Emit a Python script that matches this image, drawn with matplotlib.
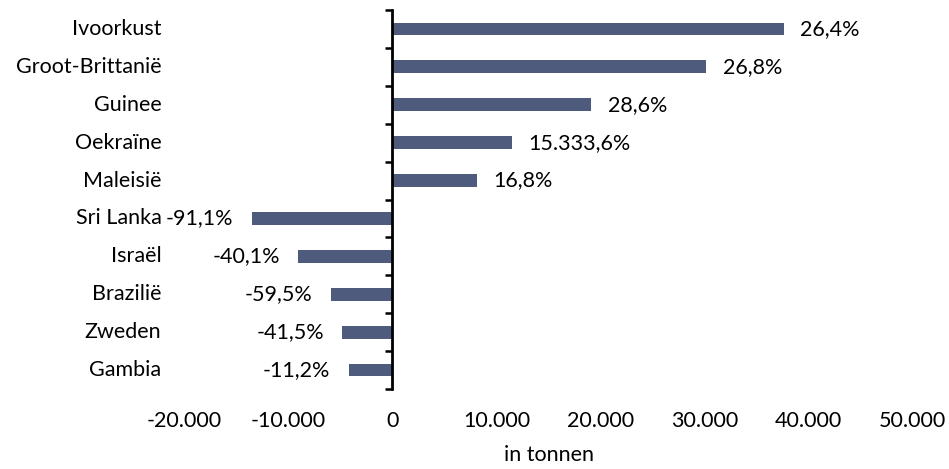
import numpy as np
import matplotlib
matplotlib.use("Agg")
from matplotlib import pyplot as plt
from matplotlib.ticker import FuncFormatter, FixedLocator
import matplotlib.transforms as mtransforms

plt.rcParams['font.family'] = ['Lato', 'DejaVu Sans']

# data, top to bottom as in the chart
countries = ["Ivoorkust", "Groot-Brittanië", "Guinee", "Oekraïne", "Maleisië",
             "Sri Lanka", "Israël", "Brazilië", "Zweden", "Gambia"]
tonnen = [37600, 30150, 19100, 11500, 8100, -13550, -9070, -5960, -4870, -4230]
change_pct = [26.4, 26.8, 28.6, 15333.6, 16.8, -91.1, -40.1, -59.5, -41.5, -11.2]


def nl_number(v, decimals=0):
    s = f"{v:,.{decimals}f}"
    return s.replace(",", "#").replace(".", ",").replace("#", ".")


bar_color = "#4f5b7c"
fs = 15.5

fig = plt.figure(figsize=(9.49, 4.69), dpi=100)
ax = fig.add_axes([184.5 / 949, 1 - 389 / 469, 728 / 949, 379 / 469])

ypos = np.arange(len(countries))[::-1]
ax.barh(ypos, tonnen, height=0.34, color=bar_color, zorder=2)

ax.set_xlim(-20000, 50000)
ax.set_ylim(-0.5, len(countries) - 0.5)

# spines: only the vertical one at zero
for s in ["top", "right", "bottom"]:
    ax.spines[s].set_visible(False)
ax.spines["left"].set_position(("data", 0))
ax.spines["left"].set_linewidth(2)
ax.spines["left"].set_color("black")

# tick marks between categories, labels drawn separately
ax.yaxis.set_major_locator(FixedLocator(np.arange(-0.5, len(countries), 1.0)))
ax.yaxis.set_major_formatter(FuncFormatter(lambda v, p: ""))
ax.tick_params(axis="y", direction="out", length=5, width=1.8, color="black")

ax.set_xticks(np.arange(-20000, 50001, 10000))
ax.xaxis.set_major_formatter(FuncFormatter(lambda v, p: nl_number(v)))
ax.tick_params(axis="x", length=0, pad=16, labelsize=fs)

# category names at the left edge of the plot area
lab_tr = mtransforms.blended_transform_factory(ax.transAxes, ax.transData)
off = mtransforms.ScaledTranslation(-23 / 100, 0, fig.dpi_scale_trans)
for y, name in zip(ypos, countries):
    ax.text(0, y, name, transform=lab_tr + off, ha="right", va="center", fontsize=fs)

# value labels with percentage change
for y, v, p in zip(ypos, tonnen, change_pct):
    txt = nl_number(p, 1) + "%"
    if v >= 0:
        ax.annotate(txt, (v, y), xytext=(12, 0), textcoords="offset points",
                    ha="left", va="center", fontsize=fs)
    else:
        ax.annotate(txt, (v, y), xytext=(-13, 0), textcoords="offset points",
                    ha="right", va="center", fontsize=fs)

ax.set_xlabel("in tonnen", fontsize=fs, labelpad=10)

fig.savefig("out.png", dpi=100)
